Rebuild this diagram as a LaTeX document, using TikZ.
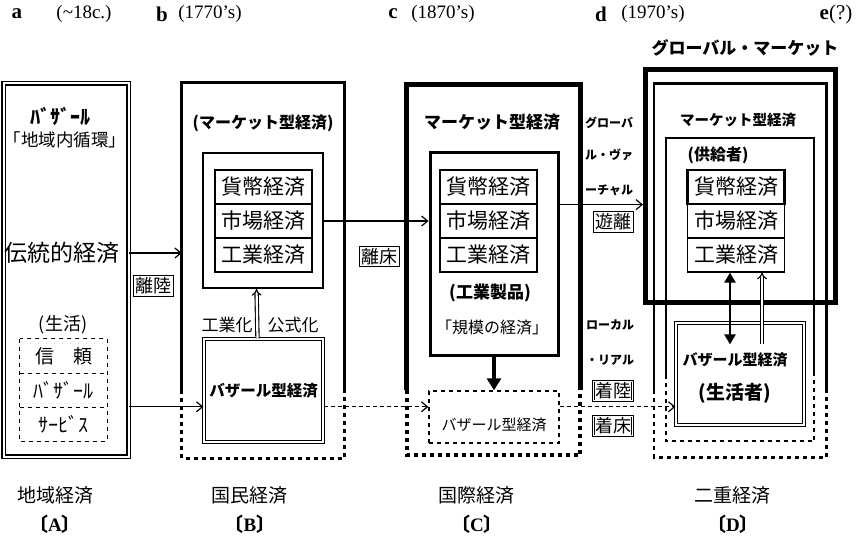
\documentclass[tikz,border=0pt]{standalone}
\usepackage{fontspec}
\setmainfont{Liberation Serif}
\newfontfamily\jp{Noto Sans CJK JP}
\usetikzlibrary{arrows.meta,calc}

\begin{document}
\begin{tikzpicture}[x=1pt, y=-1pt,
    txt/.style={inner sep=0pt, font=\jp\fontsize{#1}{#1}\selectfont},
    btxt/.style={inner sep=0pt, font=\jp\bfseries\fontsize{#1}{#1}\selectfont},
    era/.style={inner sep=0pt, font=\bfseries\fontsize{21}{21}\selectfont},
    year/.style={inner sep=0pt, font=\fontsize{19}{19}\selectfont},
    area/.style={inner sep=0pt},
    cell/.style={draw, line width=1.2pt, minimum width=97pt, minimum height=34pt,
        inner sep=0pt, font=\jp\fontsize{21}{21}\selectfont},
    heavy cell/.style={cell, line width=2.8pt},
    tag/.style={draw, line width=1pt, inner sep=2pt, font=\jp\fontsize{18}{18}\selectfont},
    dtag/.style={tag, line width=0.7pt, double, double distance=1pt, inner sep=1.5pt},
    flow/.style={line width=1.2pt, -{Straight Barb[length=6pt, width=10pt]}},
    dflow/.style={flow, dash pattern=on 4pt off 3pt},
    push/.style={line width=3.4pt, -{Triangle[length=12pt, width=14pt]}},
    lift/.style={line width=1.1pt, double, double distance=2.2pt, -{Implies}},
    rim/.style={line width=#1},
    cut/.style={line width=#1, dash pattern=on 4pt off 4pt}
]
    \useasboundingbox (0,0) rectangle (859,540);

    % Periods along the top
    \node[era] (ha) at (17,14) {a};
    \node[year] (haY) at (84,14) {(\textasciitilde18c.)};
    \node[era] (hb) at (162,14) {b};
    \node[year] (hbY) at (210,14) {(1770's)};
    \node[era] (hc) at (393,14) {c};
    \node[year] (hcY) at (443,14) {(1870's)};
    \node[era] (hd) at (601,14) {d};
    \node[year] (hdY) at (653,14) {(1970's)};
    \node[era] (he) at (836,14) {e\mdseries(?)};

    % A: local economy
    \node[area, draw, line width=1.2pt, double, double distance=2pt,
        minimum width=125pt, minimum height=373pt] (A) at (66,270) {};
    \node[btxt=20] (Ahead) at (60,116) {ﾊﾞｻﾞｰﾙ};
    \node[txt=17.5] (Aloop) at (65,140) {「地域内循環」};
    \node[txt=23] (Atrad) at (62,253) {伝統的経済};
    \node[txt=18] (Alife) at (63,325) {(生活)};
    \node[area, txt=19, minimum width=87pt, minimum height=34pt] (Atrust) at (63.5,356) {信　頼};
    \node[area, txt=20, minimum width=87pt, minimum height=34pt] (Abazaar) at (63.5,390) {ﾊﾞｻﾞｰﾙ};
    \node[area, txt=20, minimum width=87pt, minimum height=34pt] (Aservice) at (63.5,424) {ｻｰﾋﾞｽ};
    \draw[cut=1.3pt] (Atrust.north west) rectangle (Aservice.south east);
    \foreach \r in {Atrust, Abazaar}
        \draw[cut=1.3pt] (\r.south west) -- (\r.south east);

    % B: national economy
    \node[area, minimum width=162pt, minimum height=375pt] (Bf) at (263,270.5) {};
    \coordinate (Bcut) at (0,390);
    \draw[rim=3.2pt] (Bf.west |- Bcut) -- (Bf.north west) -- (Bf.north east) -- (Bf.east |- Bcut);
    \draw[cut=3.2pt] (Bf.west |- Bcut) -- (Bf.south west) -- (Bf.south east) -- (Bf.east |- Bcut);
    \node[btxt=16] (Bmk) at (263,123) {(マーケット型経済)};
    \node[area, draw, line width=2pt, minimum width=120pt, minimum height=135pt] (Bin) at (263,220.5) {};
    \node[cell] (Bmon) at (263.5,187) {貨幣経済};
    \node[cell] (Bmkt) at (263.5,221) {市場経済};
    \node[heavy cell] (Bind) at (263.5,255) {工業経済};
    \node[area, draw, line width=1.2pt, double, double distance=2pt,
        minimum width=119pt, minimum height=103pt, btxt=15.5] (Bbaz) at (263.5,390.5) {バザール型経済};
    \node[txt=17] (Bind2) at (227,325) {工業化};
    \node[txt=17] (Bform) at (293,325) {公式化};

    % C: international economy
    \node[area, minimum width=173pt, minimum height=370pt] (Cf) at (493.5,270) {};
    \coordinate (Ccut) at (0,390);
    \draw[rim=5pt] (Cf.west |- Ccut) -- (Cf.north west) -- (Cf.north east) -- (Cf.east |- Ccut);
    \draw[cut=4pt] (Cf.west |- Ccut) -- (Cf.south west) -- (Cf.south east) -- (Cf.east |- Ccut);
    \node[btxt=17] (Cmk) at (492,122) {マーケット型経済};
    \node[area, draw, line width=3pt, minimum width=128pt, minimum height=202pt] (Cin) at (494,254) {};
    \node[cell] (Cmon) at (488.5,187) {貨幣経済};
    \node[heavy cell] (Cmkt) at (488.5,221) {市場経済};
    \node[cell] (Cind) at (488.5,255) {工業経済};
    \node[btxt=17] (Cgoods) at (490,293) {(工業製品)};
    \node[txt=16] (Cscale) at (492,327) {「規模の経済」};
    \node[area, draw, cut=1.3pt, minimum width=130pt, minimum height=52pt] (Cbaz) at (494,417) {};
    \node[txt=15] (Cbazt) at (494,425) {バザール型経済};

    % D: dual economy
    \node[area, draw, line width=5pt, minimum width=190pt, minimum height=233pt] (Dglob) at (740.5,186) {};
    \node[btxt=17] (Dgm) at (745,48) {グローバル・マーケット};
    \node[area, minimum width=172pt, minimum height=373pt] (Df) at (740,270.5) {};
    \coordinate (Dcut) at (0,390);
    \draw[rim=2.6pt] (Df.west |- Dcut) -- (Df.north west) -- (Df.north east) -- (Df.east |- Dcut);
    \draw[cut=2.6pt] (Df.west |- Dcut) -- (Df.south west) -- (Df.south east) -- (Df.east |- Dcut);
    \node[area, minimum width=148pt, minimum height=303pt] (Dg) at (740,289.5) {};
    \coordinate (Dgcut) at (0,375);
    \draw[rim=1.7pt] (Dg.west |- Dgcut) -- (Dg.north west) -- (Dg.north east) -- (Dg.east |- Dgcut);
    \draw[cut=1.9pt] (Dg.west |- Dgcut) -- (Dg.south west) -- (Dg.south east) -- (Dg.east |- Dgcut);
    \node[btxt=14.5] (Dmk) at (738,120) {マーケット型経済};
    \node[btxt=16] (Dsup) at (718,155) {(供給者)};
    \node[heavy cell] (Dmon) at (736,187) {貨幣経済};
    \node[cell] (Dmkt) at (736,221) {市場経済};
    \node[cell] (Dind) at (736,255) {工業経済};
    \node[area, draw, line width=1.2pt, double, double distance=2pt,
        minimum width=128pt, minimum height=102pt] (Dbaz) at (740,374) {};
    \node[btxt=15] (Dbazt) at (735,360) {バザール型経済};
    \node[btxt=19] (Dlife) at (735,393) {(生活者)};

    % Words between the eras
    \node[btxt=12, anchor=west] (gv1) at (585,123) {グローバ};
    \node[btxt=12, anchor=west] (gv2) at (585,155) {ル・ヴァ};
    \node[btxt=12, anchor=west] (gv3) at (585,190) {ーチャル};
    \node[btxt=12, anchor=west] (lr1) at (586,325) {ローカル};
    \node[btxt=12, anchor=west] (lr2) at (586,360) {・リアル};
    \node[tag] (tkoff) at (153,286) {離陸};
    \node[tag] (leave) at (379.5,256.5) {離床};
    \node[tag] (drift) at (613,222) {遊離};
    \node[dtag] (land) at (613,391) {着陸};
    \node[dtag] (settle) at (613,426) {着床};

    % Flows
    \draw[flow] (Atrad -| A.east) -- (Atrad -| Bf.west);
    \draw[flow] (Aservice.north -| A.east) -- (Aservice.north -| Bbaz.west);
    \draw[flow] (Bmkt -| Bin.east) -- (Bmkt -| Cin.west);
    \draw[dflow] (Aservice.north -| Bbaz.east) -- (Aservice.north -| Cbaz.west);
    \draw[flow] (Cmon.south -| Cin.east) -- (Cmon.south -| Dglob.west);
    \draw[dflow] (Aservice.north -| Cbaz.east) -- (Aservice.north -| Dbaz.west);
    \draw[lift] ($(Bbaz.north)+(-6,0)$) -- ($(Bin.south)+(-6.5,0)$);
    \draw[push] (Cin.south) -- (Cbaz.north);
    \coordinate (Dlow) at ($(Dbaz.north)+(0,22)$);
    \draw[line width=2.6pt, {Triangle[length=10pt, width=11pt]}-{Triangle[length=10pt, width=11pt]}]
        ($(Dind.south)+(-6,0)$) -- ($(Dind.south |- Dlow)+(-6,0)$);
    \draw[lift] ($(Dind.south |- Dlow)+(26,0)$) -- ($(Dind.south)+(26,0)$);

    % Names along the bottom
    \node[txt=19] (nA) at (55,495) {地域経済};
    \node[txt=19] (nB) at (249,495) {国民経済};
    \node[txt=19] (nC) at (476,495) {国際経済};
    \node[txt=19] (nD) at (732,495) {二重経済};
    \node[inner sep=0pt, font=\bfseries\fontsize{19}{19}\selectfont] (kA) at (55,524) {{\jp 〔}A{\jp 〕}};
    \node[inner sep=0pt, font=\bfseries\fontsize{19}{19}\selectfont] (kB) at (250,524) {{\jp 〔}B{\jp 〕}};
    \node[inner sep=0pt, font=\bfseries\fontsize{19}{19}\selectfont] (kC) at (477,524) {{\jp 〔}C{\jp 〕}};
    \node[inner sep=0pt, font=\bfseries\fontsize{19}{19}\selectfont] (kD) at (733,524) {{\jp 〔}D{\jp 〕}};

\end{tikzpicture}
\end{document}
